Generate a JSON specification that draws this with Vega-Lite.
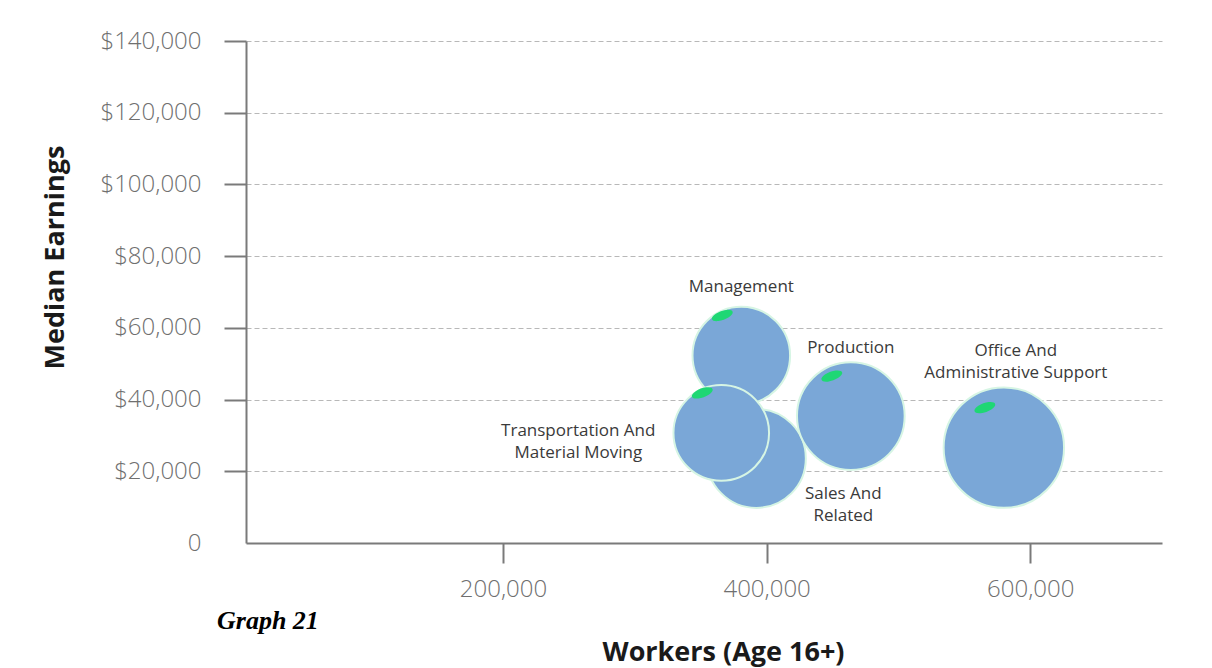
{
  "$schema": "https://vega.github.io/schema/vega-lite/v6.json",
  "width": 916,
  "height": 502,
  "autosize": {"type": "none"},
  "padding": {"left": 246, "top": 41, "right": 50, "bottom": 125},
  "background": "white",
  "title": {
    "text": "Graph 21",
    "orient": "bottom",
    "anchor": "start",
    "frame": "group",
    "dx": -29,
    "dy": -61,
    "font": "Liberation Serif",
    "fontSize": 26,
    "fontStyle": "italic",
    "fontWeight": "bold",
    "color": "#000000"
  },
  "config": {
    "view": {"stroke": null},
    "axis": {
      "labelFont": "Open Sans",
      "labelFontSize": 24,
      "labelFontWeight": 300,
      "labelColor": "#6f6f6f",
      "titleFont": "Open Sans",
      "titleFontWeight": "bold",
      "titleFontSize": 24,
      "titleColor": "#1a1a1a",
      "domainColor": "#7a7a7a",
      "domainWidth": 2,
      "tickColor": "#7a7a7a",
      "tickWidth": 2
    }
  },
  "data": {
    "values": [
      {"job": "Management", "label": "Management", "workers": 380800, "earnings": 52300},
      {"job": "Sales And Related", "label": "Sales And\nRelated", "workers": 392200, "earnings": 23600},
      {"job": "Transportation And Material Moving", "label": "Transportation And\nMaterial Moving", "workers": 365600, "earnings": 30700},
      {"job": "Production", "label": "Production", "workers": 463900, "earnings": 35400},
      {"job": "Office And Administrative Support", "label": "Office And\nAdministrative Support", "workers": 580000, "earnings": 26600}
    ]
  },
  "encoding": {
    "x": {
      "field": "workers",
      "type": "quantitative",
      "scale": {"domain": [5000, 700000], "nice": false, "zero": false},
      "axis": {
        "title": "Workers (Age 16+)",
        "values": [200000, 400000, 600000],
        "labelExpr": "format(datum.value, ',')",
        "grid": false,
        "tickSize": 20,
        "labelPadding": 14,
        "titleX": 477,
        "titleY": 117,
        "titleAlign": "center",
        "titleBaseline": "alphabetic",
        "titleFontSize": 27
      }
    },
    "y": {
      "field": "earnings",
      "type": "quantitative",
      "scale": {"domain": [0, 140000], "nice": false},
      "axis": {
        "title": "Median Earnings",
        "values": [0, 20000, 40000, 60000, 80000, 100000, 120000, 140000],
        "labelExpr": "datum.value == 0 ? '0' : '$' + format(datum.value, ',')",
        "tickSize": 22,
        "labelPadding": 23,
        "tickOpacity": {"condition": {"test": "datum.value == 0", "value": 0}, "value": 1},
        "grid": true,
        "gridDash": [5, 3],
        "gridColor": "#b8b8b8",
        "gridWidth": 1,
        "gridOpacity": {"condition": {"test": "datum.value == 0", "value": 0}, "value": 1},
        "titleX": -183,
        "titleY": 216,
        "titleAngle": -90,
        "titleAlign": "center",
        "titleBaseline": "alphabetic",
        "titleFontSize": 27
      }
    }
  },
  "layer": [
    {
      "mark": {"type": "point", "shape": "circle", "filled": true, "opacity": 1, "color": "#7aa7d7", "stroke": "#d6f5e4", "strokeWidth": 2},
      "encoding": {
        "size": {"field": "workers", "type": "quantitative", "scale": {"type": "linear", "domain": [0, 700000], "range": [0, 17500]}, "legend": null}
      }
    },
    {
      "transform": [{"filter": "datum.job != 'Sales And Related'"}],
      "mark": {"type": "point", "filled": true, "opacity": 1, "color": "#1fd774", "size": 480, "xOffset": -19, "yOffset": -40,
        "shape": "M -0.94 0.34 A 1 0.4 -20 1 1 0.94 -0.34 A 1 0.4 -20 1 1 -0.94 0.34 Z"}
    },
    {
      "transform": [{"filter": "datum.job == 'Management' || datum.job == 'Production'"}],
      "mark": {"type": "text", "font": "Open Sans", "fontSize": 17, "color": "#3a3a3a", "dy": -68, "align": "center", "baseline": "middle"},
      "encoding": {"text": {"field": "label"}}
    },
    {
      "transform": [{"filter": "datum.job == 'Office And Administrative Support'"}],
      "mark": {"type": "text", "font": "Open Sans", "fontSize": 17, "color": "#3a3a3a", "dx": 12, "dy": -97, "align": "center", "baseline": "middle", "lineBreak": "\n", "lineHeight": 22},
      "encoding": {"text": {"field": "label"}}
    },
    {
      "transform": [{"filter": "datum.job == 'Transportation And Material Moving'"}],
      "mark": {"type": "text", "font": "Open Sans", "fontSize": 17, "color": "#3a3a3a", "dx": -143, "dy": -2, "align": "center", "baseline": "middle", "lineBreak": "\n", "lineHeight": 22},
      "encoding": {"text": {"field": "label"}}
    },
    {
      "transform": [{"filter": "datum.job == 'Sales And Related'"}],
      "mark": {"type": "text", "font": "Open Sans", "fontSize": 17, "color": "#3a3a3a", "dx": 87, "dy": 36, "align": "center", "baseline": "middle", "lineBreak": "\n", "lineHeight": 22},
      "encoding": {"text": {"field": "label"}}
    }
  ]
}
